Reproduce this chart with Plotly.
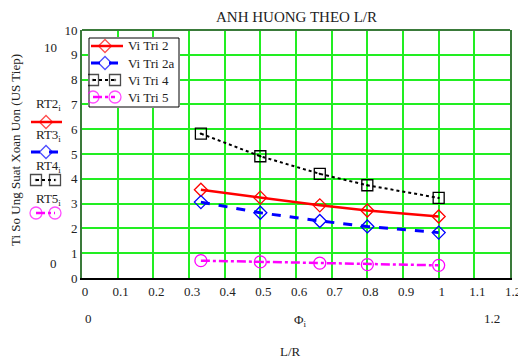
import plotly.graph_objects as go

# page is rendered with an 8px body margin; figure is sized/offset accordingly
OFF = 8
W, H = 526 - OFF, 360 - OFF
# plot area in window pixels
PL, PR, PT, PB = 82, 510, 30, 278

lr = [1/3, 0.5, 2/3, 0.8, 1.0]
rt2 = [3.56, 3.24, 2.93, 2.72, 2.48]
rt3 = [3.06, 2.63, 2.30, 2.08, 1.83]
rt4 = [5.82, 4.91, 4.20, 3.74, 3.23]
rt5 = [0.70, 0.65, 0.60, 0.54, 0.51]
names = ["Vi Tri 2", "Vi Tri 2a", "Vi Tri 4", "Vi Tri 5"]
side_labels = ["RT2<sub>i</sub>", "RT3<sub>i</sub>", "RT4<sub>i</sub>", "RT5<sub>i</sub>"]
xticks = [0, 0.1, 0.2, 0.3, 0.4, 0.5, 0.6, 0.7, 0.8, 0.9, 1.0, 1.1, 1.2]
xticklabels = ["0", "0.1", "0.2", "0.3", "0.4", "0.5", "0.6", "0.7", "0.8", "0.9", "1", "1.1", "1.2"]
yticks = list(range(0, 11))

FONT = "Liberation Serif, Times New Roman, DejaVu Serif, serif"
GRID = "#22ee22"
DKG = "#3a7a3a"

styles = [
    dict(color="red", dash="solid", width=2.5, symbol="diamond-open", size=10),
    dict(color="#0000ff", dash="dash", width=3, symbol="diamond-open", size=10),
    dict(color="black", dash="dot", width=2, symbol="square-open-dot", size=11),
    dict(color="#ff00ff", dash="dashdot", width=2.5, symbol="circle-open", size=12),
]
series = [rt2, rt3, rt4, rt5]

fig = go.Figure()
for nm, ys, st in zip(names, series, styles):
    fig.add_trace(go.Scatter(
        x=lr, y=ys, name=nm, mode="lines+markers", showlegend=False,
        line=dict(color=st["color"], dash=st["dash"], width=st["width"]),
        marker=dict(symbol=st["symbol"], size=st["size"], color=st["color"],
                    line=dict(width=1.3, color=st["color"])),
        xaxis="x", yaxis="y"))

# boxed legend: local pixel frame of the box (x3/y3)
LBX0, LBX1, LBY0, LBY1 = 89, 179, 38, 107
LW, LH = LBX1 - LBX0, LBY1 - LBY0
fig.add_trace(go.Scatter(
    x=[0, LW, LW, 0, 0], y=[0, 0, LH, LH, 0], mode="lines", fill="toself",
    fillcolor="white", line=dict(color="black", width=1), showlegend=False,
    hoverinfo="skip", xaxis="x3", yaxis="y3"))

def add_keys(xa, ya, rows, x_line, x_pair, x_mid):
    for i, st in enumerate(styles):
        if i < 2:
            xs = [x_line[0], x_mid, x_line[1]]
            sz = [0, st["size"], 0]
        else:
            xs = list(x_pair)
            sz = [st["size"], st["size"]]
        fig.add_trace(go.Scatter(
            x=xs, y=[rows[i]] * len(xs), mode="lines+markers", showlegend=False,
            line=dict(color=st["color"], dash=st["dash"], width=st["width"]),
            marker=dict(symbol=st["symbol"], size=sz, color=st["color"],
                        line=dict(width=1.3, color=st["color"])),
            xaxis=xa, yaxis=ya, hoverinfo="skip"))

leg_rows = [8, 25, 42, 59]
add_keys("x3", "y3", leg_rows, (2, 34), (4, 26), 16)
side_rows = [122, 152, 180, 213]
add_keys("x2", "y2", side_rows, (31, 62), (36, 55), 46)

def px(x):
    return (x - OFF) / W

def py(y):
    return 1 - (y - OFF) / H

fig.update_layout(
    width=W, height=H,
    margin=dict(l=0, r=0, t=0, b=0, autoexpand=False),
    paper_bgcolor="white", plot_bgcolor="white",
    font=dict(family=FONT, size=13, color="#222"),
    showlegend=False,
    xaxis=dict(domain=[px(PL), px(PR)], range=[0, 1.2], tickvals=xticks,
               ticktext=xticklabels, showgrid=True, gridcolor=GRID, gridwidth=1.5,
               showline=True, linecolor="black", linewidth=2, zeroline=False,
               ticks="", tickfont=dict(family=FONT, size=13), anchor="y",
               ticklabelstandoff=0, ticklabelshift=3, automargin=False),
    yaxis=dict(domain=[py(PB), py(PT)], range=[0, 10], tickvals=yticks,
               showgrid=True, gridcolor=GRID, gridwidth=1.5,
               showline=True, linecolor=DKG, linewidth=2, mirror=True,
               zeroline=False, ticks="", tickfont=dict(family=FONT, size=13),
               anchor="x", automargin=False),
    # side key area, window-pixel frame
    xaxis2=dict(domain=[px(20), px(75)], range=[20, 75], visible=False,
                fixedrange=True, anchor="y2"),
    yaxis2=dict(domain=[py(230), py(110)], range=[230, 110],
                visible=False, fixedrange=True, anchor="x2"),
    # legend box area, local frame
    xaxis3=dict(domain=[px(LBX0 - 1), px(LBX1 + 1)], range=[-1, LW + 1], visible=False,
                fixedrange=True, anchor="y3"),
    yaxis3=dict(domain=[py(LBY1 + 1), py(LBY0 - 1)], range=[LH + 1, -1],
                visible=False, fixedrange=True, anchor="x3"),
)

# top frame line
fig.add_shape(type="line", xref="paper", yref="paper", x0=px(PL), x1=px(PR),
              y0=py(PT), y1=py(PT), line=dict(color=DKG, width=2))

ann = []
ann.append(dict(text="ANH HUONG THEO L/R", x=px(296), y=py(8), yanchor="top",
                borderpad=0, font=dict(size=15)))
ann.append(dict(text="Ti So Ung Suat Xoan Uon (US Tiep)", x=px(16), y=py(150), textangle=-90,
                font=dict(size=13)))
ann.append(dict(text="10", x=px(50), y=py(47)))
ann.append(dict(text="0", x=px(53), y=py(263)))
ann.append(dict(text="0", x=px(88), y=py(318)))
ann.append(dict(text="1.2", x=px(492), y=py(318)))
ann.append(dict(text="Φ<sub>i</sub>", x=px(300), y=py(320)))
ann.append(dict(text="L/R", x=px(290), y=py(351)))
label_y = [104, 135, 166, 199]
for t, yy in zip(side_labels, label_y):
    ann.append(dict(text=t, x=px(48), y=py(yy)))
for i, nm in enumerate(names):
    ann.append(dict(text=nm, x=px(126), y=py(LBY0 + leg_rows[i]), xanchor="left"))
for a in ann:
    a.update(xref="paper", yref="paper", showarrow=False)
    a.setdefault("xanchor", "center")
    a.setdefault("yanchor", "middle")
    if "font" not in a:
        a["font"] = dict(size=13)
    a["font"].update(family=FONT, color="#222")
fig.update_layout(annotations=ann)

fig.write_html("out.html")
